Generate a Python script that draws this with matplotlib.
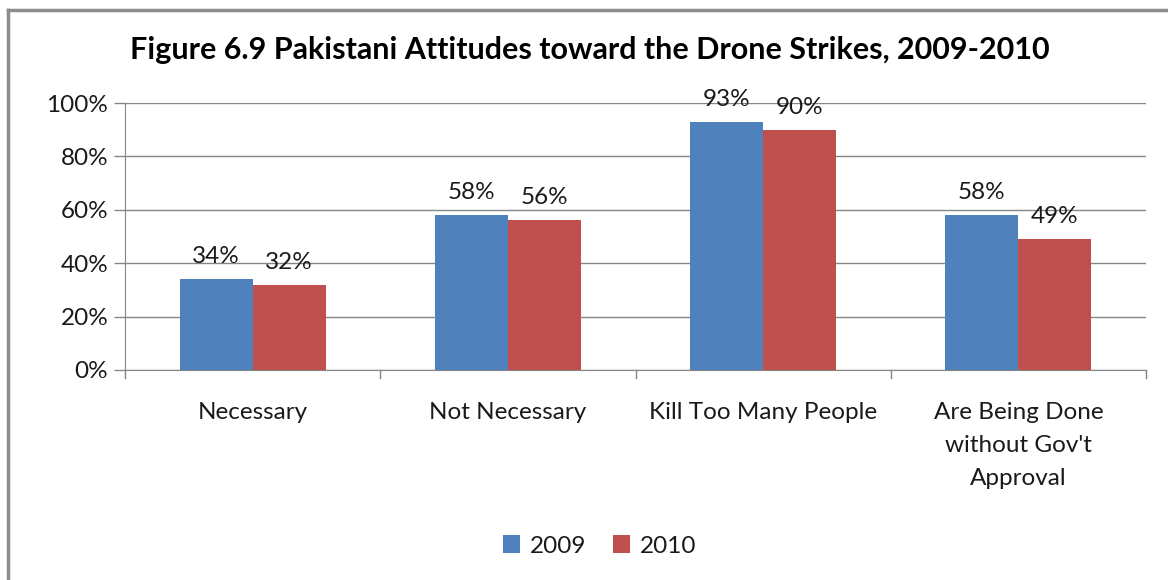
import matplotlib
matplotlib.use("Agg")
import matplotlib.pyplot as plt
import numpy as np
from matplotlib.lines import Line2D

categories = ["Necessary", "Not Necessary", "Kill Too Many People",
              "Are Being Done\nwithout Gov't\nApproval"]
series_2009 = [34, 58, 93, 58]
series_2010 = [32, 56, 90, 49]
series_names = ["2009", "2010"]
y_ticks = [0, 20, 40, 60, 80, 100]
title = "Figure 6.9 Pakistani Attitudes toward the Drone Strikes, 2009-2010"

plt.rcParams['font.family'] = ['Lato', 'DejaVu Sans']

W, H = 1168, 580
fig = plt.figure(figsize=(W / 100, H / 100), dpi=100)
ax = fig.add_axes([125 / W, 1 - 370 / H, (1146 - 125) / W, (370 - 103) / H])

blue = "#4F81BD"
red = "#C0504D"
grid_c = "#868686"
text_c = "#1a1a1a"
fs = 17.5

x = np.arange(len(categories))
bw = 0.2857
b1 = ax.bar(x - bw / 2, series_2009, bw, color=blue, label=series_names[0], zorder=3)
b2 = ax.bar(x + bw / 2, series_2010, bw, color=red, label=series_names[1], zorder=3)

for bars in (b1, b2):
    for r in bars:
        ax.text(r.get_x() + r.get_width() / 2, r.get_height() + 4.5, f"{int(r.get_height())}%",
                ha="center", va="bottom", fontsize=fs, color=text_c, zorder=4)

ax.set_xlim(-0.5, len(categories) - 0.5)
ax.set_ylim(0, 100)
ax.set_yticks(y_ticks)
ax.set_yticklabels([f"{t}%" for t in y_ticks], fontsize=fs, color=text_c)
ax.yaxis.grid(True, color=grid_c, linewidth=1, zorder=0)
ax.tick_params(axis='y', length=8, width=1, color=grid_c, pad=4)

ax.set_xticks(x)
ax.set_xticklabels(categories, fontsize=fs, color=text_c, linespacing=1.7, va="top")
ax.tick_params(axis='x', length=0, pad=23)
# category boundary tick marks
for b in np.arange(-0.5, len(categories), 1.0):
    ax.add_line(Line2D([b, b], [0, -3], color=grid_c, linewidth=1, clip_on=False,
                       transform=ax.transData))

for s in ["top", "right"]:
    ax.spines[s].set_visible(False)
ax.spines["left"].set_color(grid_c)
ax.spines["bottom"].set_color(grid_c)

fig.text(590 / W, 1 - 50 / H, title, ha="center", va="center", fontsize=22,
         fontweight="bold", color="black")

leg = fig.legend(handles=[b1, b2], labels=series_names, loc="center",
                 bbox_to_anchor=(600 / W, 1 - 546 / H), ncol=2, frameon=False,
                 fontsize=fs, handlelength=0.7, handleheight=0.7, columnspacing=1.1,
                 handletextpad=0.4)
for t in leg.get_texts():
    t.set_color(text_c)

# outer chart border (left and top visible)
fig.add_artist(Line2D([7.5 / W, 7.5 / W], [0, 1 - 10 / H], color="#8c8c8c", linewidth=2.5,
                      transform=fig.transFigure))
fig.add_artist(Line2D([7.5 / W, 1], [1 - 10 / H, 1 - 10 / H], color="#8c8c8c", linewidth=2.5,
                      transform=fig.transFigure))

fig.savefig("out.png", dpi=100, facecolor="white")
